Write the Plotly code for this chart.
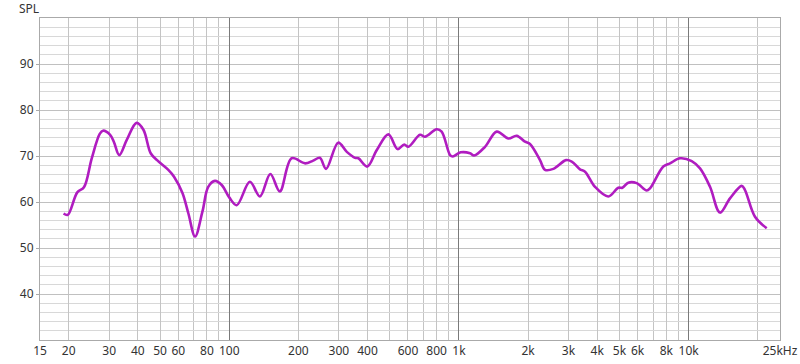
import plotly.graph_objects as go

# Frequency response data (Hz, dB SPL)
freq_hz = [19.0, 19.8, 21.8, 23.3, 25.2, 27.3, 28.2, 30.3, 31.5, 33.2, 35.8, 39.5,
           42.3, 45.5, 48.5, 54.3, 57.5, 62.5, 66.4, 71.0, 76.5, 81.0, 86.7, 92.7,
           100, 107.8, 123, 136, 151, 166, 187, 214, 232, 248, 264, 298, 325, 353,
           365, 399, 439, 493, 541, 578, 602, 677, 712, 800, 841, 915, 940, 1018,
           1118, 1164, 1299, 1461, 1641, 1785, 1940, 2039, 2254, 2370, 2577, 2926,
           3098, 3366, 3540, 3913, 4472, 4943, 5150, 5463, 5944, 6570, 6800, 7760,
           8301, 9176, 10317, 11213, 12395, 13698, 15146, 17033, 17600, 19456, 21877]
spl_db = [57.5, 57.2, 62.1, 63.2, 69.5, 74.8, 75.5, 74.6, 73.0, 70.2, 73.5, 77.2,
          75.7, 70.6, 69.1, 67.0, 65.5, 62.0, 57.5, 52.5, 58.0, 63.3, 64.6, 63.7,
          61.0, 59.3, 64.4, 61.2, 66.1, 62.3, 69.5, 68.4, 69.0, 69.6, 67.2, 72.9, 70.9, 69.6,
          69.5, 67.7, 71.3, 74.7, 71.5, 72.5, 72.0, 74.6, 74.2, 75.8, 75.3, 70.2, 69.9, 70.8,
          70.6, 70.1, 72.0, 75.3, 73.8, 74.4, 73.1, 72.6, 69.1, 67.0, 67.2, 69.1,
          68.8, 67.1, 66.6, 63.3, 61.2, 63.1, 63.1, 64.2, 64.1, 62.5, 63.0, 67.7,
          68.4, 69.5, 68.9, 67.3, 63.3, 57.7, 60.8, 63.5, 62.6, 56.8, 54.3]

x_tick_vals = [15, 20, 30, 40, 50, 60, 80, 100, 200, 300, 400, 600, 800, 1000,
               2000, 3000, 4000, 5000, 6000, 8000, 10000, 25000]
x_tick_text = ["15", "20", "30", "40", "50", "60", "80", "100", "200", "300", "400",
               "600", "800", "1k", "2k", "3k", "4k", "5k", "6k", "8k", "10k", "25kHz"]
x_minor_vals = [70, 90, 500, 700, 900, 7000, 9000, 20000]
x_decade_vals = [100, 1000, 10000]
y_tick_vals = [40, 50, 60, 70, 80, 90]

FONT = "Noto Sans"
x_range = [1.176091, 4.39794]  # log10(15), log10(25000)

fig = go.Figure()
fig.add_trace(go.Scatter(
    x=freq_hz, y=spl_db, mode="lines",
    line=dict(color="#b01cc0", width=2.6, shape="spline", smoothing=1.0),
    hoverinfo="skip", showlegend=False,
))
# invisible trace on overlay axis to host decade grid lines
fig.add_trace(go.Scatter(x=[15, 25000], y=[30, 30], xaxis="x2", mode="lines",
                         line=dict(width=0), hoverinfo="skip", showlegend=False))

fig.update_layout(
    width=800, height=364,
    margin=dict(l=40, r=20, t=18, b=24),
    paper_bgcolor="white", plot_bgcolor="white",
    font=dict(family=FONT, size=12, color="#333333"),
    xaxis=dict(
        type="log", range=x_range, automargin=False,
        tickmode="array", tickvals=x_tick_vals, ticktext=x_tick_text,
        showgrid=True, gridcolor="#c4c4c4", gridwidth=1,
        minor=dict(tickmode="array", tickvals=x_minor_vals, showgrid=True,
                   gridcolor="#c4c4c4", gridwidth=1, ticks=""),
        ticks="", showline=True, linecolor="#aaaaaa", linewidth=1, mirror=True,
        zeroline=False, tickfont=dict(size=12, color="#333333"),
    ),
    xaxis2=dict(
        type="log", range=x_range, overlaying="x", side="bottom", automargin=False,
        tickmode="array", tickvals=x_decade_vals, showticklabels=False,
        showgrid=True, gridcolor="#7a7a7a", gridwidth=1, ticks="",
        showline=False, zeroline=False,
    ),
    yaxis=dict(
        range=[30, 100], tickmode="array", tickvals=y_tick_vals, automargin=False,
        showgrid=True, gridcolor="#c0c0c0", gridwidth=1,
        minor=dict(dtick=2, tick0=30, showgrid=True, gridcolor="#d8d8d8", gridwidth=1, ticks=""),
        ticks="outside", ticklen=3, tickcolor="#aaaaaa",
        showline=True, linecolor="#aaaaaa", linewidth=1, mirror=True,
        zeroline=False, tickfont=dict(size=12, color="#333333"),
    ),
    annotations=[dict(text="SPL", xref="paper", yref="paper", x=-0.0155, y=1.0,
                      yshift=10, xanchor="center", yanchor="middle", showarrow=False,
                      font=dict(family=FONT, size=12, color="#333333"))],
)

fig.write_html("out.html")
